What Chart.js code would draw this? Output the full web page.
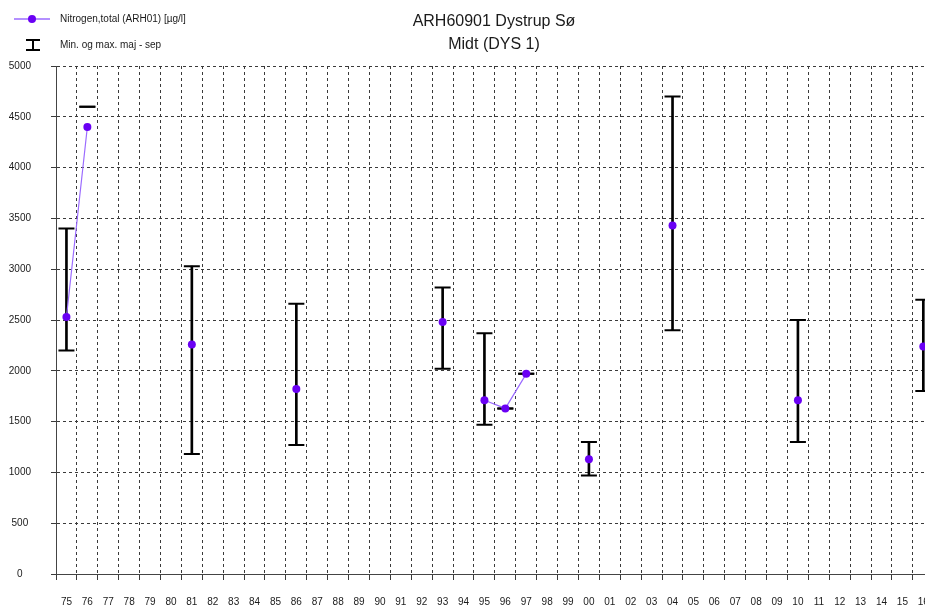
<!DOCTYPE html>
<html>
<head>
<meta charset="utf-8">
<script src="https://cdn.jsdelivr.net/npm/chart.js@4"></script>
<style>
  html, body { margin: 0; padding: 0; background: #fff; overflow: hidden; }
  body { width: 925px; height: 606px; position: relative; font-family: "Liberation Sans", Arial, sans-serif; color: #222; }
  #wrap { position: absolute; left: 0; top: 0; width: 945px; height: 606px; }
  .title { position: absolute; left: 394px; width: 200px; text-align: center; font-size: 16px; line-height: 20px; color: #1a1a1a; }
  .legend { position: absolute; left: 0; font-size: 10px; line-height: 12px; color: #1a1a1a; }
  .legend svg { position: absolute; left: 0; top: 0; }
  .legend span { position: absolute; left: 60px; white-space: nowrap; }
</style>
</head>
<body>
<div id="wrap"><canvas id="chart"></canvas></div>

<div class="title" style="top:11px">ARH60901 Dystrup Sø</div>
<div class="title" style="top:34px">Midt (DYS 1)</div>

<div class="legend" style="top:0">
  <svg width="56" height="56">
    <line x1="14" y1="19" x2="50" y2="19" stroke="#9b6bff" stroke-width="1.5"/>
    <circle cx="32" cy="19" r="4" fill="#6a00f4"/>
    <line x1="33" y1="39.5" x2="33" y2="50.5" stroke="#000" stroke-width="2"/>
    <line x1="26" y1="40" x2="40" y2="40" stroke="#000" stroke-width="2"/>
    <line x1="26" y1="50" x2="40" y2="50" stroke="#000" stroke-width="2"/>
  </svg>
  <span style="top:13px">Nitrogen,total (ARH01) [µg/l]</span>
  <span style="top:39px">Min. og max. maj - sep</span>
</div>

<script>
// Years 1975–2016, labelled with two digits
const years = [
  '75','76','77','78','79','80','81','82','83','84','85','86','87','88',
  '89','90','91','92','93','94','95','96','97','98','99','00','01','02',
  '03','04','05','06','07','08','09','10','11','12','13','14','15','16'
];

// Total nitrogen (µg/l), mean per year; null where no sampling
const nitrogen = [
  2530, 4400, null, null, null, null, 2260, null, null, null, null, 1820, null, null,
  null, null, null, null, 2480, null, 1710, 1630, 1970, null, null, 1130, null, null,
  null, 3430, null, null, null, null, null, 1710, null, null, null, null, null, 2240
];

// Minimum and maximum, May – September
const minValues = [
  2200, 4600, null, null, null, null, 1180, null, null, null, null, 1270, null, null,
  null, null, null, null, 2020, null, 1470, 1630, 1970, null, null, 970, null, null,
  null, 2400, null, null, null, null, null, 1300, null, null, null, null, null, 1800
];
const maxValues = [
  3400, 4600, null, null, null, null, 3030, null, null, null, null, 2660, null, null,
  null, null, null, null, 2820, null, 2370, 1630, 1970, null, null, 1300, null, null,
  null, 4700, null, null, null, null, null, 2500, null, null, null, null, null, 2700
];

const yTicks = [0, 500, 1000, 1500, 2000, 2500, 3000, 3500, 4000, 4500, 5000];

const ranges = minValues.map((lo, i) => (lo === null ? null : [lo, maxValues[i]]));

const textColor = '#1a1a1a';
const gridColor = '#3a3a3a';
const font = { family: '"Liberation Sans", Arial, sans-serif', size: 10 };

new Chart(document.getElementById('chart'), {
  type: 'bar',
  data: {
    labels: years,
    datasets: [
      {
        type: 'line',
        label: 'Nitrogen,total (ARH01) [µg/l]',
        data: nitrogen,
        borderColor: '#9b6bff',
        borderWidth: 1.2,
        pointBackgroundColor: '#6a00f4',
        pointBorderColor: '#6a00f4',
        pointRadius: 4,
        pointBorderWidth: 0,
        spanGaps: false,
        tension: 0,
        order: 0
      },
      {
        label: 'range',
        data: ranges,
        backgroundColor: '#000',
        borderWidth: 0,
        barThickness: 2,
        grouped: false,
        order: 3
      },
      {
        type: 'line',
        label: 'max',
        data: maxValues,
        showLine: false,
        pointStyle: 'line',
        pointRadius: 8,
        pointBorderWidth: 2,
        pointBorderColor: '#000',
        order: 2
      },
      {
        type: 'line',
        label: 'min',
        data: minValues,
        showLine: false,
        pointStyle: 'line',
        pointRadius: 8,
        pointBorderWidth: 2,
        pointBorderColor: '#000',
        order: 2
      }
    ]
  },
  options: {
    responsive: true,
    maintainAspectRatio: false,
    animation: false,
    layout: { padding: { top: 66, right: 10, left: 0, bottom: 0 } },
    plugins: {
      legend: { display: false },
      title: { display: false },
      tooltip: { enabled: false }
    },
    scales: {
      x: {
        offset: true,
        afterFit: (s) => { s.height = 32; },
        grid: {
          offset: true,
          color: gridColor,
          tickColor: gridColor,
          tickLength: 6,
          lineWidth: 1
        },
        border: { display: true, color: '#444', width: 1, dash: [3, 3] },
        ticks: {
          color: textColor,
          font: font,
          padding: 16,
          maxRotation: 0,
          autoSkip: false
        }
      },
      y: {
        min: 0,
        max: 5000,
        afterFit: (s) => { s.width = 56; },
        afterBuildTicks: (s) => { s.ticks = yTicks.map(v => ({ value: v })); },
        grid: {
          color: gridColor,
          tickColor: gridColor,
          tickLength: 5,
          lineWidth: 1
        },
        border: { display: true, color: '#444', width: 1, dash: [3, 3] },
        ticks: {
          color: textColor,
          font: font,
          padding: 20,
          crossAlign: 'center',
          callback: (v) => String(v)
        }
      }
    }
  }
});
</script>
</body>
</html>
